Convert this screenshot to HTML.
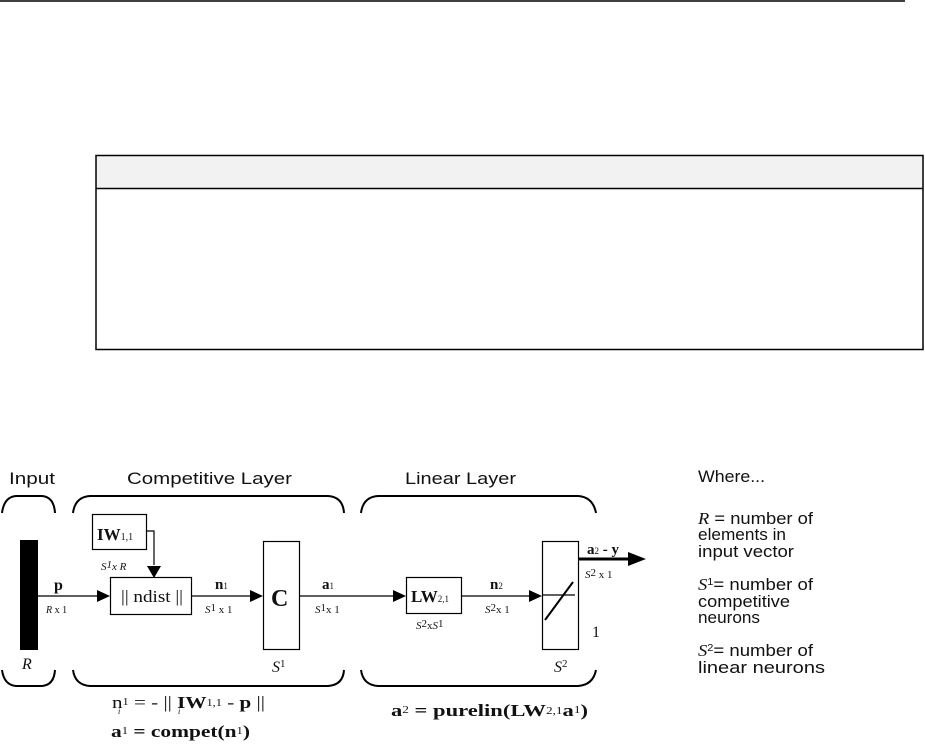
<!DOCTYPE html>
<html><head><meta charset="utf-8"><style>
html,body{margin:0;padding:0;background:#fff;width:925px;height:747px;overflow:hidden}
svg{display:block}
.h{font-family:"Liberation Sans",sans-serif;font-size:17px;fill:#111}
.s{font-family:"Liberation Serif",serif;fill:#111}
</style></head><body>
<svg width="925" height="747" viewBox="0 0 925 747" xmlns="http://www.w3.org/2000/svg">
<line x1="0" y1="1" x2="905" y2="1" stroke="#000" stroke-width="1.5"/>
<rect x="96" y="155.5" width="827" height="33" fill="#f2f2f2"/>
<rect x="96" y="155.5" width="827" height="194" fill="none" stroke="#000" stroke-width="1.5"/>
<line x1="96" y1="188.5" x2="923" y2="188.5" stroke="#000" stroke-width="1.5"/>

<g fill="none" stroke="#000" stroke-width="2">
<path d="M2,513 Q4,497 16,496 L42,496 Q54,497 55,513"/>
<path d="M2,670 Q4,685 16,686 L42,686 Q54,685 55,670"/>
<path d="M73,513 Q75,497 90,496 L328,496 Q343,497 344,513"/>
<path d="M73,670 Q75,685 90,686 L328,686 Q343,685 344,670"/>
<path d="M361,513 Q363,497 378,496 L578,496 Q593,497 596,513"/>
<path d="M361,670 Q363,685 378,686 L578,686 Q593,685 596,670"/>
</g>
<rect x="20" y="540" width="18" height="110" fill="#000"/>
<g fill="#fff" stroke="#000" stroke-width="1.2">
<rect x="92.5" y="514.5" width="54" height="35"/>
<rect x="110.5" y="577.5" width="81" height="37"/>
<rect x="263.5" y="541.5" width="36" height="108"/>
<rect x="406.5" y="577.5" width="55" height="36"/>
<rect x="542.5" y="541.5" width="36" height="108"/>
</g>
<g stroke="#000" stroke-width="1.2" fill="none">
<line x1="38" y1="596" x2="100" y2="596"/>
<polyline points="146,531 154,531 154,565"/>
<line x1="191" y1="596" x2="252" y2="596"/>
<line x1="299" y1="596" x2="396" y2="596"/>
<line x1="461" y1="596" x2="532" y2="596"/>
<line x1="542" y1="595" x2="575" y2="595"/>
<line x1="545" y1="620" x2="573" y2="582" stroke-width="2"/>
<line x1="578" y1="559" x2="632" y2="559" stroke-width="3"/>
</g>
<g fill="#000">
<polygon points="97,590 110,596 97,602"/>
<polygon points="147,566 161,566 154,578"/>
<polygon points="250,590 263,596 250,602"/>
<polygon points="393,590 406,596 393,602"/>
<polygon points="529,590 542,596 529,602"/>
<polygon points="628,552 646,559 628,566"/>
</g>

<text class="h" x="9" y="484" textLength="46" lengthAdjust="spacingAndGlyphs">Input</text>
<text class="h" x="127" y="484" textLength="165" lengthAdjust="spacingAndGlyphs">Competitive  Layer</text>
<text class="h" x="405" y="484" textLength="111" lengthAdjust="spacingAndGlyphs">Linear Layer</text>

<text class="s" x="97" y="540" font-size="17" font-weight="bold">IW<tspan font-size="10" font-weight="normal">1,1</tspan></text>
<text class="s" x="101" y="570" font-size="11" font-style="italic">S<tspan dy="-2">1</tspan><tspan dy="2">x R</tspan></text>
<text class="s" x="54" y="590" font-size="16" font-weight="bold">p</text>
<text class="s" x="46" y="613" font-size="10" font-style="italic">R <tspan font-style="normal">x 1</tspan></text>
<text class="s" x="121" y="602" font-size="17" textLength="62" lengthAdjust="spacingAndGlyphs">|| ndist ||</text>
<text class="s" x="215" y="589" font-size="15" font-weight="bold">n<tspan font-size="9" font-weight="normal">1</tspan></text>
<text class="s" x="205" y="613" font-size="11"><tspan font-style="italic">S</tspan><tspan dy="-2">1</tspan><tspan dy="2"> x 1</tspan></text>
<text class="s" x="271" y="606" font-size="24" font-weight="bold">C</text>
<text class="s" x="272" y="672" font-size="16" font-style="italic">S<tspan font-style="normal" font-size="11" dy="-5">1</tspan></text>
<text class="s" x="22" y="669" font-size="16" font-style="italic">R</text>
<text class="s" x="322" y="589" font-size="15" font-weight="bold">a<tspan font-size="9" font-weight="normal">1</tspan></text>
<text class="s" x="315" y="613" font-size="11"><tspan font-style="italic">S</tspan><tspan dy="-2">1</tspan><tspan dy="2">x 1</tspan></text>
<text class="s" x="411" y="602" font-size="17" font-weight="bold">LW<tspan font-size="9" font-weight="normal">2,1</tspan></text>
<text class="s" x="416" y="629" font-size="11" font-style="italic">S<tspan font-style="normal" dy="-2">2</tspan><tspan dy="2" font-style="normal">x</tspan>S<tspan font-style="normal" dy="-2">1</tspan></text>
<text class="s" x="490" y="589" font-size="15" font-weight="bold">n<tspan font-size="9" font-weight="normal">2</tspan></text>
<text class="s" x="485" y="613" font-size="11"><tspan font-style="italic">S</tspan><tspan dy="-2">2</tspan><tspan dy="2">x 1</tspan></text>
<text class="s" x="587" y="554" font-size="15" font-weight="bold">a<tspan font-size="9" font-weight="normal">2</tspan> - y</text>
<text class="s" x="585" y="578" font-size="11"><tspan font-style="italic">S</tspan><tspan dy="-2">2</tspan><tspan dy="2"> x 1</tspan></text>
<text class="s" x="592" y="637" font-size="16">1</text>
<text class="s" x="554" y="672" font-size="16" font-style="italic">S<tspan font-style="normal" font-size="11" dy="-5">2</tspan></text>

<text class="s" x="112" y="708" font-size="17" textLength="153" lengthAdjust="spacingAndGlyphs">n<tspan font-size="10" dy="-3">1</tspan><tspan dy="3"> = - || </tspan><tspan font-weight="bold">IW</tspan><tspan font-size="10" dy="-2">1,1</tspan><tspan dy="2"> - </tspan><tspan font-weight="bold">p</tspan> ||</text>
<text class="s" x="118" y="714" font-size="8" font-style="italic">i</text>
<text class="s" x="178" y="714" font-size="8" font-style="italic">i</text>
<text class="s" x="111" y="737" font-size="17" font-weight="bold" textLength="139" lengthAdjust="spacingAndGlyphs">a<tspan font-size="10" font-weight="normal" dy="-3">1</tspan><tspan dy="3"> = compet(n</tspan><tspan font-size="10" font-weight="normal" dy="-3">1</tspan><tspan dy="3">)</tspan></text>
<text class="s" x="391" y="716" font-size="17" font-weight="bold" textLength="197" lengthAdjust="spacingAndGlyphs">a<tspan font-size="10" font-weight="normal" dy="-3">2</tspan><tspan dy="3"> = purelin(LW</tspan><tspan font-size="10" font-weight="normal" dy="-2">2,1</tspan><tspan dy="2">a</tspan><tspan font-size="10" font-weight="normal" dy="-3">1</tspan><tspan dy="3">)</tspan></text>

<text class="h" x="698" y="482" textLength="67" lengthAdjust="spacingAndGlyphs">Where...</text>
<text class="h" x="698" y="524" textLength="115" lengthAdjust="spacingAndGlyphs"><tspan font-family="Liberation Serif" font-style="italic">R</tspan>  = number of</text>
<text class="h" x="698" y="540" textLength="88" lengthAdjust="spacingAndGlyphs">elements in</text>
<text class="h" x="698" y="557" textLength="96" lengthAdjust="spacingAndGlyphs">input vector</text>
<text class="h" x="698" y="590" textLength="115" lengthAdjust="spacingAndGlyphs"><tspan font-family="Liberation Serif" font-style="italic">S</tspan><tspan font-size="10" dy="-5">1</tspan><tspan dy="5">= number of</tspan></text>
<text class="h" x="698" y="607" textLength="92" lengthAdjust="spacingAndGlyphs">competitive</text>
<text class="h" x="698" y="623" textLength="62" lengthAdjust="spacingAndGlyphs">neurons</text>
<text class="h" x="698" y="656" textLength="115" lengthAdjust="spacingAndGlyphs"><tspan font-family="Liberation Serif" font-style="italic">S</tspan><tspan font-size="10" dy="-5">2</tspan><tspan dy="5">= number of</tspan></text>
<text class="h" x="698" y="673" textLength="127" lengthAdjust="spacingAndGlyphs">linear neurons</text>
</svg>
</body></html>
